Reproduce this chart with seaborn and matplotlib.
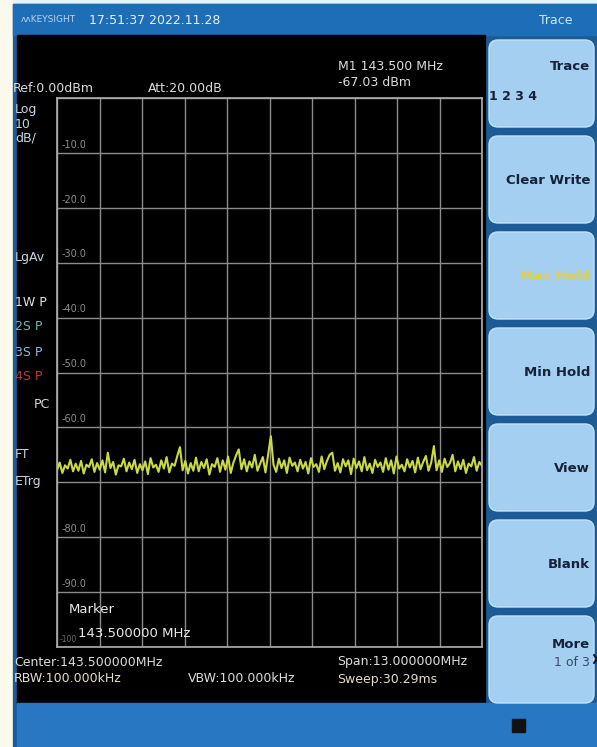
import numpy as np
import matplotlib
matplotlib.use("Agg")
import matplotlib.pyplot as plt
import seaborn as sns
from matplotlib.patches import Rectangle, FancyBboxPatch

# Analyzer settings
start_mhz = 137.0
stop_mhz = 150.0
ref_level = 0.0
db_per_div = 10
grid_labels = ["-10.0", "-20.0", "-30.0", "-40.0", "-50.0", "-60.0", "-70.0", "-80.0", "-90.0"]

# Trace 1 levels (dBm), read left to right off the screen
level = [
    -67.8, -66.4, -68.3, -66.9, -67.5, -65.9, -68.0, -66.6, -67.9, -66.1,
    -68.4, -66.8, -67.2, -65.8, -68.1, -66.5, -67.7, -66.0, -68.2, -64.6,
    -67.4, -66.3, -68.6, -66.9, -67.1, -65.7, -68.0, -66.4, -67.6, -65.9,
    -68.3, -66.7, -67.8, -66.2, -68.5, -65.6, -67.3, -66.8, -68.1, -66.0,
    -67.5, -65.4, -68.2, -66.6, -67.0, -65.2, -63.6, -67.8, -66.1, -68.4,
    -66.5, -67.9, -65.5, -68.0, -66.3, -67.4, -65.8, -68.6, -66.7, -67.2,
    -65.6, -68.1, -66.0, -67.7, -65.3, -68.3, -66.4, -65.1, -64.0, -67.6,
    -65.8, -68.0, -66.2, -67.3, -65.0, -67.9, -66.6, -65.4, -68.2, -64.9,
    -61.6, -66.8, -68.1, -65.7, -67.4, -66.0, -68.3, -65.5, -67.0, -66.4,
    -68.0, -65.9, -67.5, -66.3, -68.4, -65.6, -67.2, -66.7, -68.1, -65.3,
    -67.6, -66.1, -65.0, -64.6, -67.9, -66.5, -68.2, -65.8, -67.1, -66.0,
    -68.5, -65.7, -67.4, -66.2, -68.0, -65.4, -67.8, -66.6, -68.3, -65.9,
    -67.2, -66.4, -68.1, -65.6, -67.7, -66.0, -68.4, -65.3, -67.5, -66.8,
    -68.0, -65.8, -67.3, -66.1, -68.2, -65.5, -67.6, -66.3, -65.2, -67.9,
    -66.4, -63.4, -67.8, -66.0, -68.1, -65.7, -67.2, -66.5, -65.0, -68.0,
    -66.2, -67.6, -65.9, -68.3, -66.6, -67.1, -65.4, -67.9, -66.3, -67.0,
]
freq = np.linspace(start_mhz, stop_mhz, len(level))

left_status = ["Log", "10", "dB/"]
trace_status = ["1W P", "2S P", "3S P", "4S P"]
trace_colors = ["#e4e4e4", "#6fb7b4", "#8db9e6", "#c8303e"]
softkeys = ["Clear Write", "Max Hold", "Min Hold", "View", "Blank"]

sns.set_style("dark")
plt.rcParams["font.family"] = ["DejaVu Sans"]

W, H = 597, 747
fig = plt.figure(figsize=(W / 100, H / 100), dpi=100)

# background canvas in pixel coordinates
bg = fig.add_axes([0, 0, 1, 1])
bg.set_xlim(0, W)
bg.set_ylim(H, 0)
bg.axis("off")

bg.add_patch(Rectangle((0, 0), W, H, color="#fbf9ec"))
bg.add_patch(Rectangle((13, 0), W - 13, 4, color="#e4f4fa"))
bg.add_patch(Rectangle((13, 4), W - 13, H - 4, color="#1d5b97"))
bg.add_patch(Rectangle((13, 4), W - 13, 31, color="#1e6db7"))
bg.add_patch(Rectangle((17, 35), 468, 668, color="black"))
bg.add_patch(Rectangle((17, 703), W - 17, 44, color="#2777c2"))
bg.add_patch(Rectangle((512, 719), 13, 13, color="#111111"))

# header
bg.text(21, 20, "ʌʌKEYSIGHT", color="#b8d4ee", fontsize=6.5, va="center")
bg.text(89, 20, "17:51:37 2022.11.28", color="#e8f0f8", fontsize=9, va="center")
bg.text(556, 20, "Trace", color="#cfe6fb", fontsize=9, va="center", ha="center")

# readouts above the graticule
txt = dict(color="#dcdcdc", fontsize=9, va="center")
bg.text(13, 88, "Ref:0.00dBm", **txt)
bg.text(148, 88, "Att:20.00dB", **txt)
bg.text(338, 67, "M1 143.500 MHz", **txt)
bg.text(338, 82, "-67.03 dBm", **txt)

# left status column
for i, s in enumerate(left_status):
    bg.text(15, 110 + i * 14, s, color="#c8d4e0", fontsize=9, va="center")
bg.text(15, 258, "LgAv", color="#c8d4e0", fontsize=9, va="center")
for i, (s, c) in enumerate(zip(trace_status, trace_colors)):
    bg.text(15, 302 + i * 25, s, color=c, fontsize=9, va="center")
bg.text(34, 404, "PC", color="#d8d8d8", fontsize=9, va="center")
bg.text(15, 455, "FT", color="#c8d4e0", fontsize=9, va="center")
bg.text(15, 481, "ETrg", color="#c8d4e0", fontsize=9, va="center")

# readouts below the graticule
bg.text(14, 662, "Center:143.500000MHz", **txt)
bg.text(14, 679, "RBW:100.000kHz", color="#e6dccd", fontsize=9, va="center")
bg.text(188, 679, "VBW:100.000kHz", **txt)
bg.text(337, 662, "Span:13.000000MHz", **txt)
bg.text(337, 679, "Sweep:30.29ms", color="#e6dccd", fontsize=9, va="center")

# softkey panel
tops = [37, 133, 229, 325, 421, 517, 613]
for t in tops:
    bg.add_patch(FancyBboxPatch((489, t + 3), 105, 87,
                                boxstyle="round,pad=0,rounding_size=9",
                                fc="#a5cff1", ec="#c4e2fa", lw=1))
key = dict(color="#15223a", fontsize=9.5, va="center", ha="right", fontweight="bold")
bg.text(590, 66, "Trace", **key)
bg.text(489, 97, "1 2 3 4", color="#15223a", fontsize=9, va="center", fontweight="bold")
for t, s in zip(tops[1:6], softkeys):
    k = dict(key)
    if s == "Max Hold":
        k["color"] = "#e6cf3c"
    bg.text(590, t + 48, s, **k)
bg.text(590, 645, "More", **key)
bg.text(590, 662, "1 of 3", color="#3a4a66", fontsize=9, va="center", ha="right")
bg.plot([594, 597, 594], [655, 659, 663], color="#111111", lw=1.5)

# graticule
gx0, gx1, gy0, gy1 = 57, 482, 98, 647
ax = fig.add_axes([gx0 / W, (H - gy1) / H, (gx1 - gx0) / W, (gy1 - gy0) / H])
ax.set_facecolor("none")
sns.lineplot(x=freq, y=level, ax=ax, color="#cbd943", lw=1.5)
ax.set_xlim(start_mhz, stop_mhz)
ax.set_ylim(ref_level - 10 * db_per_div, ref_level)
ax.set_xticks(np.linspace(start_mhz, stop_mhz, 11))
ax.set_yticks(np.arange(-100, 1, db_per_div))
ax.tick_params(length=0, labelbottom=False, labelleft=False)
ax.grid(True, color="#8c8c8c", lw=1)
for sp in ax.spines.values():
    sp.set_visible(True)
    sp.set_color("#b0b0b0")
    sp.set_linewidth(1.2)

for i, lab in enumerate(grid_labels):
    if lab == "-70.0":
        continue
    ax.text(137.15, -10 * (i + 1) + 0.6, lab, color="#8e8e8e", fontsize=7, va="bottom")
ax.text(137.08, -99.5, "-100", color="#6e6e6e", fontsize=5.5, va="bottom")
ax.text(137.35, -93.2, "Marker", color="#e8e8e8", fontsize=9.5, va="center")
ax.text(137.65, -97.6, "143.500000 MHz", color="#e8e8e8", fontsize=9.5, va="center")

fig.savefig("out.png", dpi=100)
